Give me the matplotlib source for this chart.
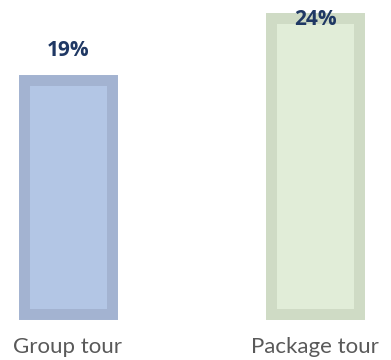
import matplotlib
matplotlib.use("Agg")
import matplotlib.pyplot as plt

categories = ["Group tour", "Package tour"]
values = [19, 24]
labels = ["19%", "24%"]
edge_colors = ["#a3b3d1", "#cfdbc5"]
fill_colors = ["#b3c6e5", "#e1edd8"]

fig = plt.figure(figsize=(3.91, 3.6), dpi=100)
ax = fig.add_axes([0, 46.5 / 360, 1, 313.5 / 360])

x = list(range(len(categories)))
bars = ax.bar(x, values, width=0.36, color=fill_colors, edgecolor=edge_colors,
              linewidth=7.9, clip_on=False)
for b in bars:
    b.set_joinstyle("miter")

ymax = 313.5 / 12.3
ax.set_xlim(-0.2753, 1.3077)
ax.set_ylim(0, ymax)

# labels above bars, pushed down to stay inside the figure
for xi, v, lab in zip(x, values, labels):
    y = min(v + 2.35, ymax - 1.6)
    ax.text(xi, y, lab, ha="center", va="center", fontsize=15, fontweight="bold",
            color="#1f3864", family="Open Sans")

for xi, cat in zip(x, categories):
    ax.annotate(cat, (xi, 0), xytext=(0, -24), textcoords="offset points",
                ha="center", va="center", fontsize=16, color="#595959",
                family="Lato", annotation_clip=False)

ax.axis("off")
fig.savefig("out.png", dpi=100)
